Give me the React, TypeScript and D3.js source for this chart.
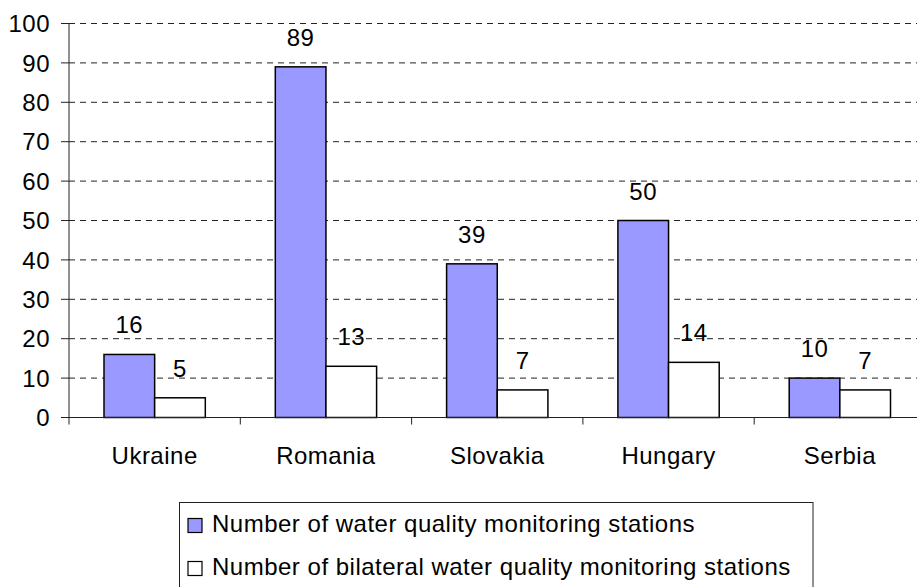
import * as d3 from 'd3'
import { useEffect } from 'react'

const countries = ['Ukraine', 'Romania', 'Slovakia', 'Hungary', 'Serbia']
const seriesNames = [
  'Number of water quality monitoring stations',
  'Number of bilateral water quality monitoring stations',
]
const allStations = [16, 89, 39, 50, 10]
const bilateralStations = [5, 13, 7, 14, 7]
const yTicks = [0, 10, 20, 30, 40, 50, 60, 70, 80, 90, 100]
const seriesColors = ['#9999ff', '#ffffff']

const W = 917
const H = 587
const font = 'Arial, "Liberation Sans", sans-serif'

export default function App() {
  useEffect(() => {
    document.body.style.margin = '0'
  }, [])

  const left = 69
  const top = 23.5
  const bottom = 417.5
  const band = 171.3

  const x0 = d3.scaleBand<string>().domain(countries).range([left, left + band * countries.length])
  const x1 = d3.scaleBand<number>().domain([0, 1]).range([35, band - 35])
  const y = d3.scaleLinear().domain([0, 100]).range([bottom, top])

  const series = [allStations, bilateralStations]

  return (
    <svg width={W} height={H} style={{ display: 'block', background: '#fff' }}
      fontFamily={font} fontSize={24} letterSpacing={0.5}>
      {/* gridlines */}
      {yTicks.filter((t) => t > 0).map((t) => (
        <line key={'g' + t} x1={left} x2={W} y1={y(t)} y2={y(t)}
          stroke="#222" strokeWidth={1} strokeDasharray="6,5" />
      ))}
      {/* y axis */}
      <line x1={left} x2={left} y1={top} y2={bottom} stroke="#222" />
      {yTicks.map((t) => (
        <g key={'t' + t}>
          <line x1={left - 8} x2={left} y1={y(t)} y2={y(t)} stroke="#222" />
          <text x={left - 19} y={y(t)} dy="0.36em" textAnchor="end">{t}</text>
        </g>
      ))}
      {/* bars */}
      {countries.map((c, i) => (
        <g key={c} transform={`translate(${x0(c)},0)`}>
          {series.map((vals, s) => (
            <g key={s}>
              <rect x={x1(s)} y={y(vals[i])} width={x1.bandwidth()} height={bottom - y(vals[i])}
                fill={seriesColors[s]} stroke="#000" strokeWidth={1.5} />
              <text x={x1(s)! + x1.bandwidth() / 2} y={y(vals[i]) - 21} textAnchor="middle">
                {vals[i]}
              </text>
            </g>
          ))}
        </g>
      ))}
      {/* x axis */}
      <line x1={left} x2={W} y1={bottom} y2={bottom} stroke="#222" />
      {countries.map((c, i) => (
        <line key={'xt' + c} x1={left + band * i} x2={left + band * i} y1={bottom} y2={bottom + 7} stroke="#222" />
      ))}
      {countries.map((c) => (
        <text key={'xl' + c} x={x0(c)! + band / 2} y={464} textAnchor="middle">{c}</text>
      ))}
      {/* legend */}
      <rect x={179.5} y={502.5} width={633.5} height={100} fill="#fff" stroke="#222" strokeWidth={1} />
      {seriesNames.map((name, s) => (
        <g key={name} transform={`translate(188,${524 + s * 43})`}>
          <rect x={0} y={-5.5} width={14} height={14} fill={seriesColors[s]} stroke="#000" strokeWidth={1.2} />
          <text x={24} y={8}>{name}</text>
        </g>
      ))}
    </svg>
  )
}
